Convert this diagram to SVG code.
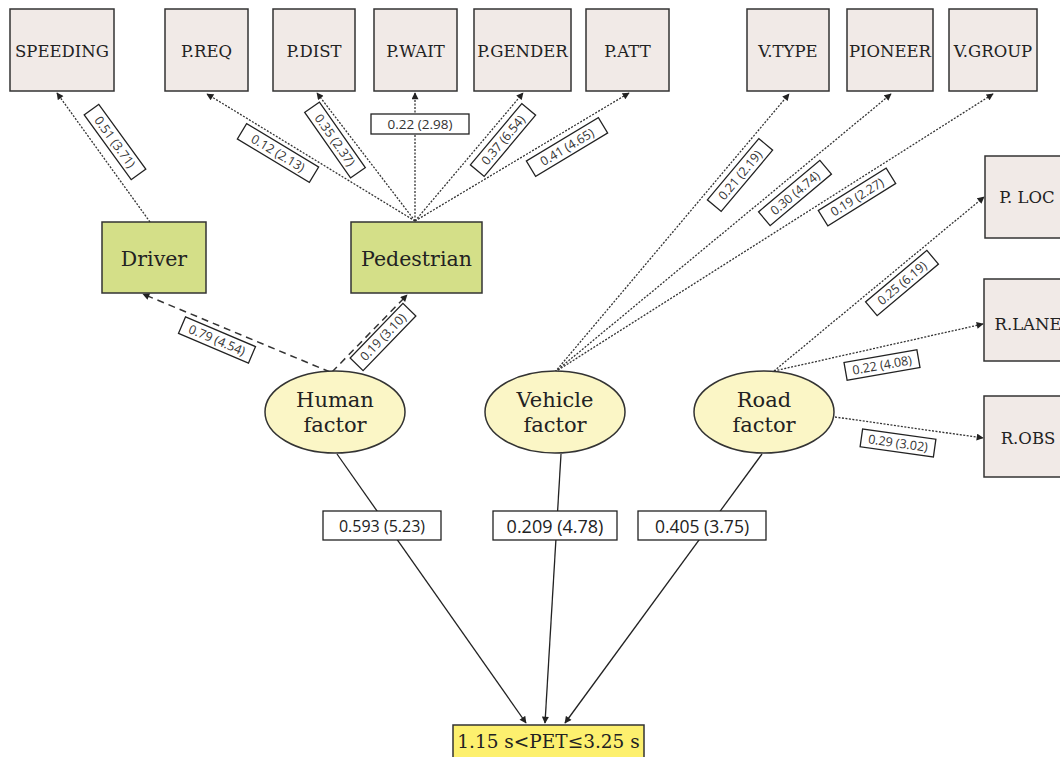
<svg xmlns="http://www.w3.org/2000/svg" width="1060" height="757" viewBox="0 0 1060 757">
<style>
.box{fill:#f1eae7;stroke:#333;stroke-width:1.5}
.grn{fill:#d4df88;stroke:#333;stroke-width:1.5}
.ell{fill:#fbf6c6;stroke:#333;stroke-width:1.5}
.res{fill:#fdf06e;stroke:#333;stroke-width:1.5}
.t{font-family:"DejaVu Serif",serif;fill:#222;text-anchor:middle}
.tb{font-size:16.5px}
.tg{font-size:20.5px}
.te{font-size:21px}
.lb rect{fill:#fff;stroke:#222;stroke-width:1.3}
.lb text{font-family:"Open Sans","Noto Sans",sans-serif;font-size:12.5px;fill:#333;text-anchor:middle}
.big rect{fill:#fff;stroke:#222;stroke-width:1.3}
.big text{font-family:"Open Sans","Noto Sans",sans-serif;fill:#222;text-anchor:middle}
.dot{fill:none;stroke:#333;stroke-width:1.3;stroke-dasharray:2 1.5;marker-end:url(#ah)}
.dash{fill:none;stroke:#333;stroke-width:1.5;stroke-dasharray:7 5;marker-end:url(#ah)}
.sol{fill:none;stroke:#222;stroke-width:1.3;marker-end:url(#ah)}
</style>
<defs>
<marker id="ah" viewBox="0 0 10 10" refX="9" refY="5" markerWidth="8" markerHeight="7" markerUnits="userSpaceOnUse" orient="auto">
<path d="M0,0 L10,5 L0,10 z" fill="#222"/>
</marker>
</defs>

<g id="connectors">
<path class="dot" d="M150,222 L57,93"/>
<path class="dot" d="M415,221 L207,94"/>
<path class="dot" d="M415,221 L317,93"/>
<path class="dot" d="M415,221 L415,93"/>
<path class="dot" d="M415,221 L523,93"/>
<path class="dot" d="M415,221 L629,93"/>
<path class="dot" d="M555,372 L789,94"/>
<path class="dot" d="M555,372 L891,94"/>
<path class="dot" d="M555,372 L993,94"/>
<path class="dot" d="M774,371 L984,197"/>
<path class="dot" d="M774,371 L983,324"/>
<path class="dot" d="M835,417 L983,438"/>
<path class="dash" d="M330,372 L143,294"/>
<path class="dash" d="M332,372 L407,295"/>
<path class="sol" d="M337,454 L526,723"/>
<path class="sol" d="M561,454 L545,723"/>
<path class="sol" d="M762,454 L565,723"/>

<g class="lb" transform="translate(115,142) rotate(54)"><rect x="-40" y="-9" width="80" height="18"/><text y="4.5">0.51 (3.71)</text></g>
<g class="lb" transform="translate(278,153) rotate(31)"><rect x="-42" y="-9" width="84" height="18"/><text y="4.5">0.12 (2.13)</text></g>
<g class="lb" transform="translate(335,140) rotate(55)"><rect x="-40" y="-9" width="80" height="18"/><text y="4.5">0.35 (2.37)</text></g>
<g class="lb"><rect x="371" y="114" width="98" height="20"/><text x="420" y="129" style="font-size:13.5px">0.22 (2.98)</text></g>
<g class="lb" transform="translate(503,140) rotate(-50)"><rect x="-40" y="-9" width="80" height="18"/><text y="4.5">0.37 (6.54)</text></g>
<g class="lb" transform="translate(567,147) rotate(-31)"><rect x="-42" y="-9" width="84" height="18"/><text y="4.5">0.41 (4.65)</text></g>
<g class="lb" transform="translate(740,175) rotate(-50)"><rect x="-40" y="-9" width="80" height="18"/><text y="4.5">0.21 (2.19)</text></g>
<g class="lb" transform="translate(795,193) rotate(-40)"><rect x="-40" y="-9" width="80" height="18"/><text y="4.5">0.30 (4.74)</text></g>
<g class="lb" transform="translate(857,197) rotate(-32)"><rect x="-40" y="-9" width="80" height="18"/><text y="4.5">0.19 (2.27)</text></g>
<g class="lb" transform="translate(902,283) rotate(-40)"><rect x="-40" y="-9" width="80" height="18"/><text y="4.5">0.25 (6.19)</text></g>
<g class="lb" transform="translate(882,365) rotate(-10)"><rect x="-37" y="-9" width="74" height="18"/><text y="4.5">0.22 (4.08)</text></g>
<g class="lb" transform="translate(898,443) rotate(8)"><rect x="-37" y="-9" width="74" height="18"/><text y="4.5">0.29 (3.02)</text></g>
<g class="lb" transform="translate(217,340) rotate(23)"><rect x="-38" y="-9" width="76" height="18"/><text y="4.5">0.79 (4.54)</text></g>
<g class="lb" transform="translate(383,337) rotate(-46)"><rect x="-38" y="-9" width="76" height="18"/><text y="4.5">0.19 (3.10)</text></g>

<g class="big"><rect x="323" y="511" width="118" height="29"/><text x="382" y="532" style="font-size:16px">0.593 (5.23)</text></g>
<g class="big"><rect x="493" y="511" width="124" height="29"/><text x="555" y="532.5" style="font-size:18px">0.209 (4.78)</text></g>
<g class="big"><rect x="638" y="511" width="128" height="29"/><text x="702" y="532.5" style="font-size:17.5px">0.405 (3.75)</text></g>
</g>

<g id="speeding"><rect class="box" x="10" y="9" width="104" height="82"/><text class="t tb" x="62" y="57">SPEEDING</text></g>
<g id="preq"><rect class="box" x="165" y="9" width="83" height="82"/><text class="t tb" x="206.5" y="57">P.REQ</text></g>
<g id="pdist"><rect class="box" x="273" y="9" width="82" height="82"/><text class="t tb" x="314" y="57">P.DIST</text></g>
<g id="pwait"><rect class="box" x="374" y="9" width="83" height="82"/><text class="t tb" x="415.5" y="57">P.WAIT</text></g>
<g id="pgender"><rect class="box" x="474" y="9" width="97" height="82"/><text class="t tb" x="522.5" y="57">P.GENDER</text></g>
<g id="patt"><rect class="box" x="586" y="9" width="83" height="82"/><text class="t tb" x="627.5" y="57">P.ATT</text></g>
<g id="vtype"><rect class="box" x="747" y="9" width="82" height="82"/><text class="t tb" x="788" y="57">V.TYPE</text></g>
<g id="pioneer"><rect class="box" x="847" y="9" width="86" height="82"/><text class="t tb" x="890" y="57">PIONEER</text></g>
<g id="vgroup"><rect class="box" x="949" y="9" width="88" height="82"/><text class="t tb" x="993" y="57">V.GROUP</text></g>
<g id="ploc"><rect class="box" x="985" y="156" width="88" height="82"/><text class="t tb" x="1027" y="203">P. LOC</text></g>
<g id="rlane"><rect class="box" x="984" y="279" width="88" height="82"/><text class="t tb" x="1028" y="330">R.LANE</text></g>
<g id="robs"><rect class="box" x="984" y="396" width="88" height="81"/><text class="t tb" x="1028" y="444">R.OBS</text></g>

<g id="driver"><rect class="grn" x="102" y="222" width="104" height="71"/><text class="t tg" x="154" y="266">Driver</text></g>
<g id="pedestrian"><rect class="grn" x="351" y="222" width="131" height="71"/><text class="t tg" x="416.5" y="266">Pedestrian</text></g>

<g id="human"><ellipse class="ell" cx="335" cy="412" rx="70" ry="41"/><text class="t te" x="335" y="407">Human</text><text class="t te" x="335" y="432">factor</text></g>
<g id="vehicle"><ellipse class="ell" cx="555" cy="412" rx="70" ry="41"/><text class="t te" x="555" y="407">Vehicle</text><text class="t te" x="555" y="432">factor</text></g>
<g id="road"><ellipse class="ell" cx="764" cy="412" rx="70" ry="41"/><text class="t te" x="764" y="407">Road</text><text class="t te" x="764" y="432">factor</text></g>

<g id="pet"><rect class="res" x="453" y="725" width="191" height="40"/><text class="t" x="548.5" y="748" style="font-size:18.5px">1.15 s&lt;PET≤3.25 s</text></g>
</svg>
